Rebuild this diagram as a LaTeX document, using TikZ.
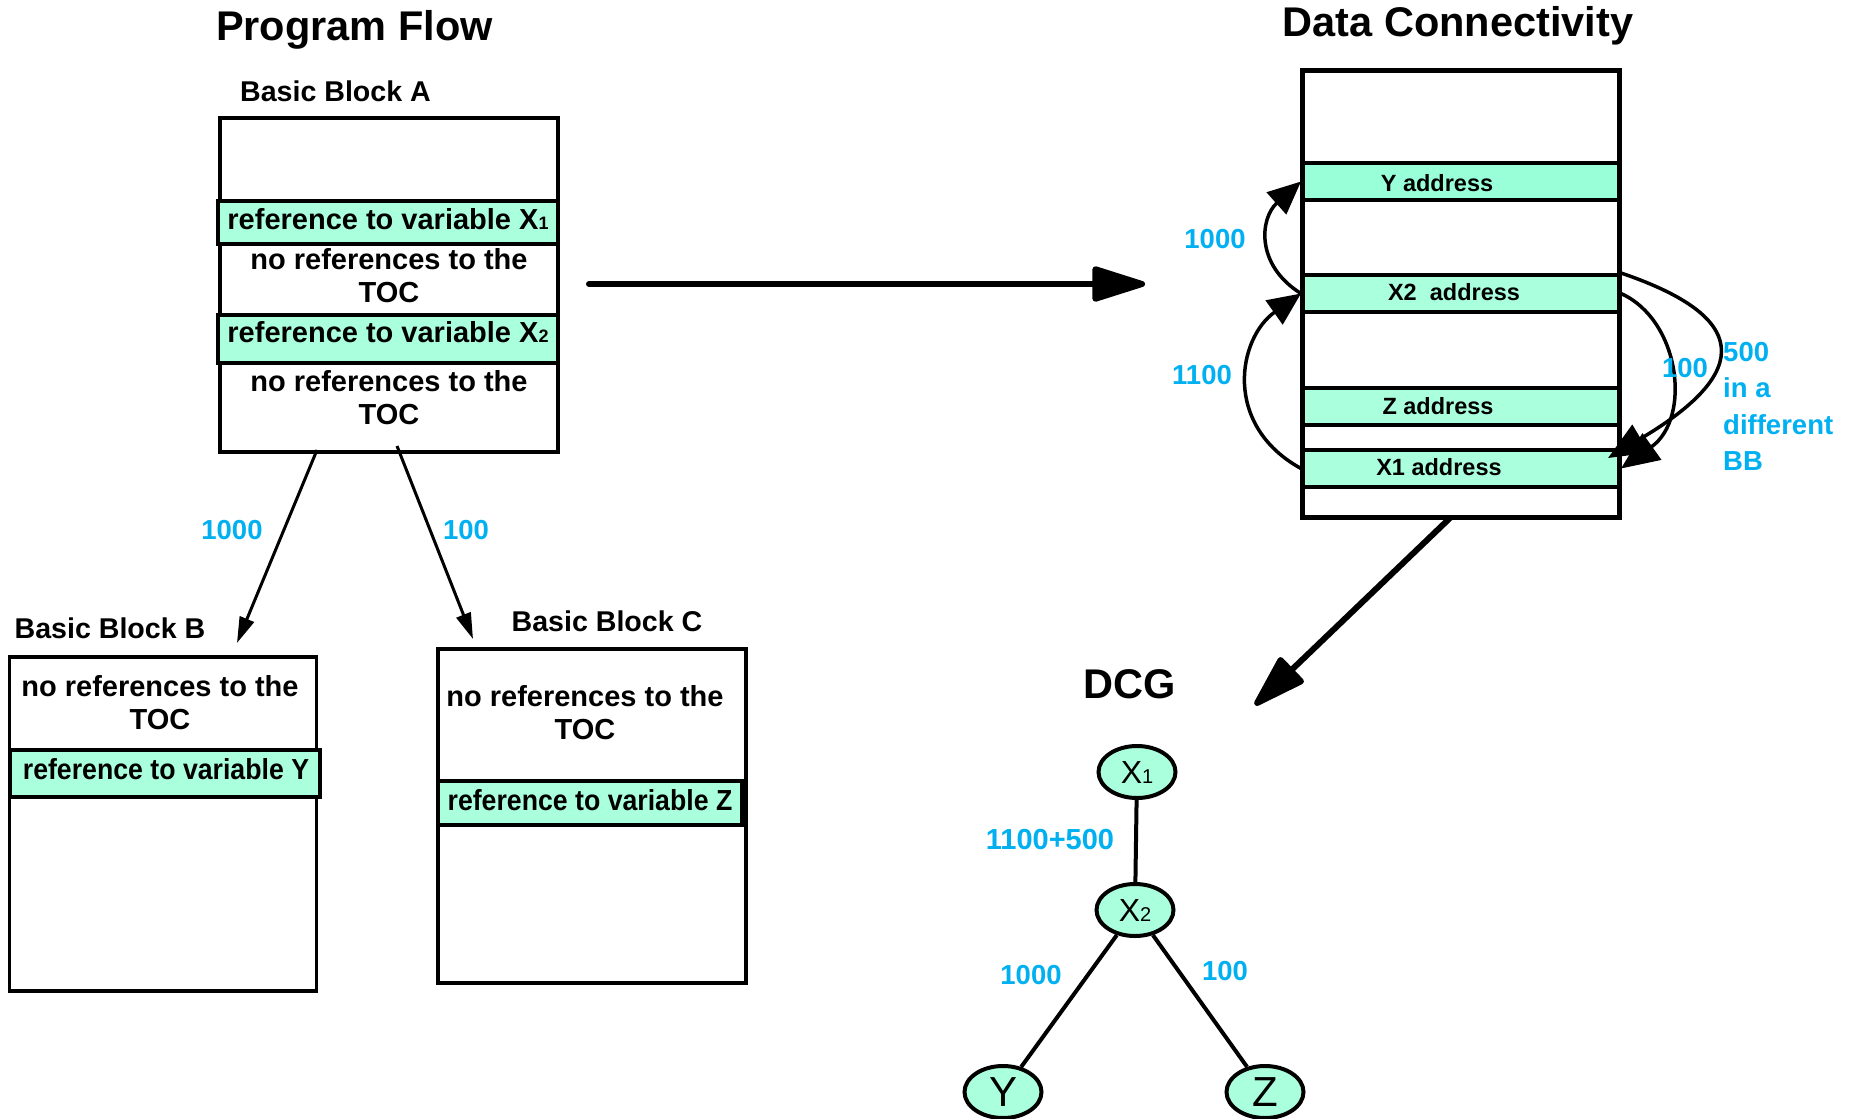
\documentclass[tikz,border=0pt]{standalone}
\usepackage{fontspec}
\usepackage{graphicx}
\setmainfont{Liberation Sans}
\usetikzlibrary{arrows.meta,shapes.geometric}
\definecolor{tealA}{RGB}{170,255,221}
\definecolor{tealY}{RGB}{153,255,217}
\definecolor{lblue}{RGB}{0,176,240}
\newcommand{\smallsub}[1]{{\fontsize{18}{18}\selectfont #1}}
\newcommand{\dcgsub}[1]{{\fontsize{20}{20}\selectfont #1}}
\begin{document}
\begin{tikzpicture}[x=1pt,y=-1pt,
  blockbox/.style={draw, line width=3.3pt, fill=white, inner sep=0pt},
  refband/.style={draw, line width=4.5pt, fill=tealA, inner sep=0pt},
  addrband/.style={draw, line width=4pt, fill=tealA, inner sep=0pt, minimum width=316pt, minimum height=37pt},
  bodytxt/.style={font={\bfseries\fontsize{29}{33}\selectfont}, align=center, inner sep=0pt},
  addrtxt/.style={font={\bfseries\fontsize{23.5}{26}\selectfont}, inner sep=0pt},
  headtxt/.style={font={\bfseries\fontsize{28.6}{33}\selectfont}, inner sep=0pt},
  titletxt/.style={font={\bfseries\fontsize{41.5}{46}\selectfont}, inner sep=0pt},
  lbl/.style={text=lblue, font={\bfseries\fontsize{27.5}{36.5}\selectfont}, inner sep=0pt},
  flowarrow/.style={line width=3pt, -{Triangle[length=26pt,width=15pt]}},
  bigarrow/.style={line width=6pt, line cap=round, -{Triangle[length=60pt,width=36pt,round]}},
  curvearrow/.style={line width=3.5pt, -{Triangle[length=33pt,width=29pt]}},
  rcurvearrow/.style={line width=3.5pt, -{Triangle[length=38pt,width=32pt]}},
  dcgnode/.style={ellipse, draw, line width=4pt, fill=tealA, minimum width=77pt, minimum height=52pt, inner sep=0pt, font={\fontsize{32}{34}\selectfont}},
  dcgedge/.style={line width=4pt}
]
\useasboundingbox (0,0) rectangle (1856,1119);
\clip (0,0) rectangle (1856,1119);
\fill[white] (0,0) rectangle (1856,1119);

% ---------------- Program Flow ----------------
\node[titletxt, anchor=base] (pfTitle) at (354.5,40) {Program Flow};
\node[headtxt] (bbAlbl) at (335.5,91) {Basic Block A};

\node[blockbox, minimum width=338pt, minimum height=334pt] (A) at (389,285) {};
\node[refband, minimum width=340pt, minimum height=43pt] (AX1) at (388,222.5) {};
\node[bodytxt] (AX1t) at (388,219) {reference to variable X\smallsub{1}};
\node[bodytxt] (Atxt1) at (389,276) {no references to the\\TOC};
\node[refband, minimum width=340pt, minimum height=48pt] (AX2) at (388,339) {};
\node[bodytxt] (AX2t) at (388,332) {reference to variable X\smallsub{2}};
\node[bodytxt] (Atxt2) at (389,398) {no references to the\\TOC};

% Block B
\node[headtxt] (bbBlbl) at (110,628) {Basic Block B};
\node[blockbox, minimum width=307.5pt, minimum height=334pt] (B) at (163,824) {};
\node[bodytxt] (Btxt) at (160,703) {no references to the\\TOC};
\node[refband, minimum width=310pt, minimum height=47pt] (BY) at (165,773.5) {};
\node[bodytxt] (BYt) at (166,769) {\scalebox{0.92}[1]{reference to variable Y}};

% Block C
\node[headtxt] (bbClbl) at (607,621) {Basic Block C};
\node[blockbox, minimum width=308pt, minimum height=334pt] (C) at (592,816) {};
\node[bodytxt] (Ctxt) at (585,713) {no references to the\\TOC};
\node[refband, minimum width=304pt, minimum height=44pt] (CZ) at (590,803) {};
\node[bodytxt] (CZt) at (590,800) {\scalebox{0.92}[1]{reference to variable Z}};

% flow arrows
\coordinate (ABs) at (317,450);
\coordinate (ABe) at (237,643);
\coordinate (ACs) at (397,446);
\coordinate (ACe) at (473,639);
\draw[flowarrow] (ABs) -- (ABe);
\draw[flowarrow] (ACs) -- (ACe);
\node[lbl] (lAB) at (232,530) {1000};
\node[lbl] (lAC) at (466,530) {100};

% big arrow
\coordinate (bigS) at (589,284);
\coordinate (bigE) at (1145,284);
\draw[bigarrow] (bigS) -- (bigE);

% ---------------- Data Connectivity ----------------
\node[titletxt] (dcTitle) at (1458,26) {Data Connectivity};
\node[blockbox, minimum width=316pt, minimum height=446pt] (DC) at (1461,294) {};
\node[addrband, fill=tealY] (Yb) at (1461,181.5) {};
\node[addrband] (X2b) at (1461,293.5) {};
\node[addrband] (Zb) at (1461,406.5) {};
\node[addrband] (X1b) at (1461,468.5) {};
\node[addrtxt] (Ybt) at (1437,183.5) {Y address};
\node[addrtxt] (X2bt) at (1454,292) {X2\ \ address};
\node[addrtxt] (Zbt) at (1438,406) {Z address};
\node[addrtxt] (X1bt) at (1439,467.5) {X1 address};
\draw[line width=3.3pt] (DC.north west) rectangle (DC.south east);

% left curves
\draw[curvearrow] (X2b.west) .. controls (1255,265) and (1260,218) .. (Yb.west);
\draw[curvearrow] (X1b.west) .. controls (1222,425) and (1238,338) .. (X2b.west);
\node[lbl] (l1000) at (1215,239) {1000};
\node[lbl] (l1100) at (1202,375) {1100};

% right curves
\coordinate (o500end) at (1608,458);
\draw[rcurvearrow] (X2b.north east) .. controls (1730,310) and (1770,362) .. (o500end);
\draw[rcurvearrow] (X2b.east) .. controls (1680,320) and (1692,418) .. (X1b.east);
\node[lbl] (l100r) at (1685,368) {100};
\node[lbl, align=left, anchor=west] (l500) at (1723,406.5) {500\\in a\\different\\BB};

% arrow to DCG
\coordinate (dcS) at (1450,518);
\coordinate (dcE) at (1255,705);
\draw[bigarrow] (dcS) -- (dcE);

% ---------------- DCG ----------------
\node[titletxt] (dcgTitle) at (1130,684) {DCG};
\node[dcgnode] (gX1) at (1137,772) {X\dcgsub{1}};
\node[dcgnode] (gX2) at (1135,910) {X\dcgsub{2}};
\node[dcgnode] (gY) at (1003,1092) {\raisebox{-8pt}{\fontsize{42}{42}\selectfont Y}};
\node[dcgnode] (gZ) at (1265,1092) {\raisebox{-8pt}{\fontsize{42}{42}\selectfont Z}};
\draw[dcgedge] (gX1) -- (gX2);
\draw[dcgedge] (gX2) -- (gY);
\draw[dcgedge] (gX2) -- (gZ);
\node[lbl, font={\bfseries\fontsize{29}{33}\selectfont}] (l1600) at (1050,840) {1100+500};
\node[lbl] (lg1000) at (1031,975) {1000};
\node[lbl] (lg100) at (1225,971) {100};
\end{tikzpicture}
\end{document}
